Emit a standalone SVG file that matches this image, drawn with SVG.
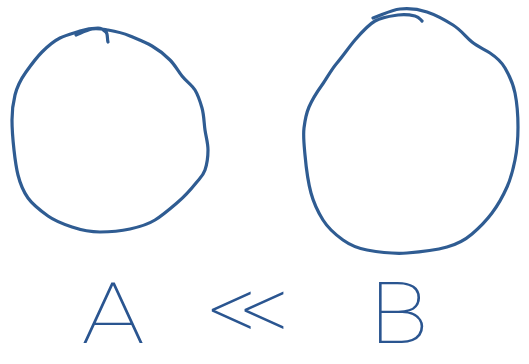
<svg xmlns="http://www.w3.org/2000/svg" width="529" height="364" viewBox="0 0 529 364">
<style>
.ink{fill:none;stroke:#2f5c92;stroke-width:3.2;stroke-linecap:round;stroke-linejoin:round}
.lbl{font-family:"Roboto","Liberation Sans",sans-serif;font-weight:100;fill:#2a5590}
</style>
<rect width="529" height="364" fill="#fff"/>
<g id="node-a">
<path class="ink" d="M76,35 C81,33 87,30 92,29 S102,29 108,30 S123,33 130,36 S145,42 152,46 S165,55 170,60 S178,71 182,76 S192,85 195,90 S200,101 202,108 S204,123 205,130 S208,143 208,150 S207,164 205,170 S200,178 196,183 S185,196 178,202 S163,215 155,220 S139,227 130,229 S110,232 100,232 S81,230 72,227 S55,221 48,216 S33,205 28,198 S20,183 18,175 S15,159 14,150 S12,129 12,120 S13,103 15,95 S21,79 26,72 S36,58 42,52 S54,41 60,38 S74,33 80,31 S94,28 98,28 S104,30 106,32 S107,39 108,42"/>
<text class="lbl" x="0" y="343" font-size="86" text-anchor="middle" transform="translate(113,0) scale(1.22,1)">A</text>
</g>
<g id="node-b">
<path class="ink" d="M373,18 C382,15 391,10 400,9 S418,9 427,12 S445,20 453,25 S466,37 472,42 S484,49 490,53 S501,61 505,68 S513,83 515,93 S518,116 518,127 S517,150 515,160 S511,178 507,187 S498,205 492,213 S479,228 472,234 S458,244 447,247 S420,252 407,253 S378,252 367,250 S350,245 343,240 S328,228 323,220 S314,204 311,193 S306,166 305,155 S303,136 304,128 S306,114 309,107 S317,92 322,85 S331,70 337,63 S349,47 355,40 S368,25 375,21 S391,16 398,15 S411,15 415,16 S420,19 422,21"/>
<text class="lbl" x="0" y="343" font-size="85" text-anchor="middle" transform="translate(399,0) scale(1.15,1)">B</text>
</g>
<g id="relation">
<text class="lbl" x="208" y="341" font-size="95" letter-spacing="-16">&lt;&lt;</text>
</g>
<g id="connectors"/>
</svg>
